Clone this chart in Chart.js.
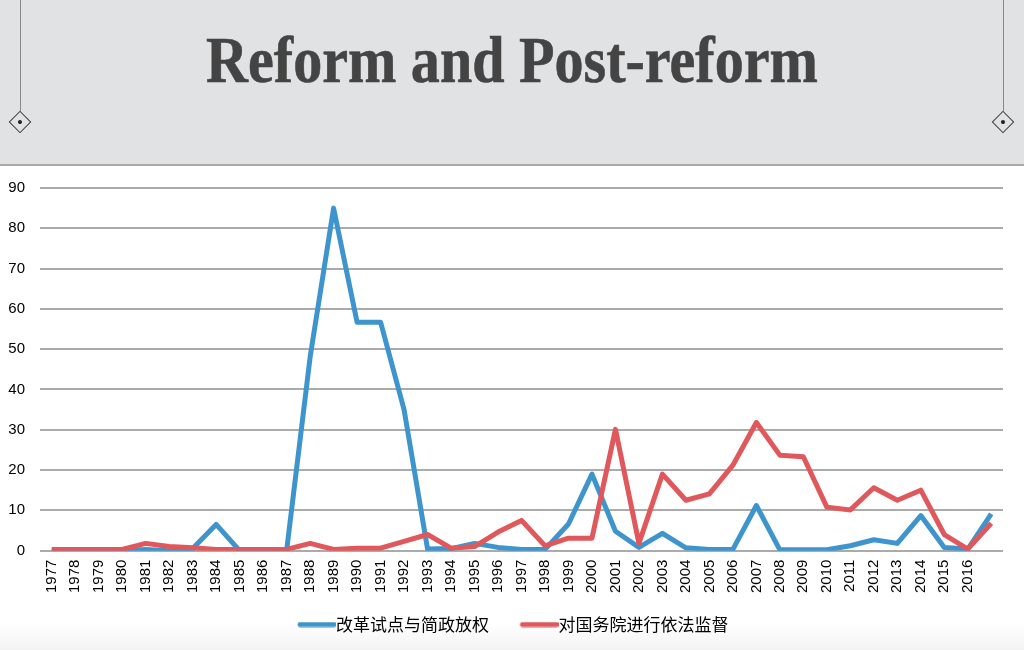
<!DOCTYPE html>
<html lang="zh">
<head>
  <meta charset="UTF-8" />
  <title>Reform and Post-reform</title>
  <script src="https://cdn.jsdelivr.net/npm/chart.js"></script>
  <style>
    html, body {
      margin: 0;
      padding: 0;
      width: 1024px;
      height: 650px;
      overflow: hidden;
      background: #fff;
    }

    #header {
      position: absolute;
      left: 0;
      top: 0;
      width: 1024px;
      height: 164px;
      background-color: #e1e2e4;
      border-bottom: 2px solid #a8a8a8;
    }

    #title {
      position: absolute;
      left: 0;
      top: 27px;
      width: 1024px;
      text-align: center;
      font-family: 'Liberation Serif', serif;
      font-weight: 700;
      font-size: 66px;
      line-height: 66px;
      color: #444;
      -webkit-text-stroke: 0.6px #444;
      transform: scaleX(0.88);
      white-space: nowrap;
    }

    .drop {
      position: absolute;
      top: 0;
      width: 1px;
      height: 111px;
      background: #8a8a8a;
    }

    .diamond {
      position: absolute;
      top: 114px;
      width: 14px;
      height: 14px;
      border: 1.5px solid #3c3c3c;
      transform: rotate(45deg);
    }

    .diamond::after {
      content: '';
      position: absolute;
      left: 5px;
      top: 5px;
      width: 4px;
      height: 4px;
      border-radius: 50%;
      background: #222;
    }

    #chartBox {
      position: absolute;
      left: 0;
      top: 168px;
      width: 1024px;
      height: 482px;
      background: linear-gradient(to bottom, #fff 0, #fff 455px, #f3f3f3 482px);
    }
  </style>
</head>
<body>

  <div id="header">
    <div class="drop" style="left: 20px;"></div>
    <div class="drop" style="left: 1003px;"></div>
    <div class="diamond" style="left: 12px;"></div>
    <div class="diamond" style="left: 995px;"></div>
    <div id="title">Reform and Post-reform</div>
  </div>

  <div id="chartBox">
    <canvas id="reformChart"></canvas>
  </div>

  <script>
    // year labels on the x axis (the last point carries no label)
    const years = [
      '1977', '1978', '1979', '1980', '1981', '1982', '1983', '1984', '1985', '1986',
      '1987', '1988', '1989', '1990', '1991', '1992', '1993', '1994', '1995', '1996',
      '1997', '1998', '1999', '2000', '2001', '2002', '2003', '2004', '2005', '2006',
      '2007', '2008', '2009', '2010', '2011', '2012', '2013', '2014', '2015', '2016',
      ''
    ];

    const reformLabel = '改革试点与简政放权';
    const reformValues = [
      0, 0, 0, 0, 0.3, 0, 0.5, 6.5, 0, 0,
      0, 48, 85, 56.7, 56.7, 35, 0.4, 0.5, 1.8, 0.8,
      0.3, 0.3, 6.6, 19, 4.8, 0.8, 4.3, 0.7, 0.3, 0.3,
      11.2, 0.2, 0.2, 0.2, 1.2, 2.7, 1.8, 8.7, 0.8, 0.4,
      9.1
    ];

    const supervisionLabel = '对国务院进行依法监督';
    const supervisionValues = [
      0.3, 0.3, 0.3, 0.3, 1.8, 1.0, 0.7, 0.3, 0.3, 0.3,
      0.3, 1.8, 0.3, 0.6, 0.6, 2.3, 4, 0.6, 1.0, 4.6,
      7.5, 1.2, 3.1, 3.1, 30.1, 1.8, 19, 12.5, 14.1, 21.2,
      31.8, 23.7, 23.3, 10.8, 10.1, 15.6, 12.5, 15, 4, 0.4,
      6.8
    ];

    const yTicks = { min: 0, max: 90, step: 10 };

    const blue = '#3e95cd';
    const red = '#e0585b';

    // legend swatch: a short thick line that runs right up to the label text
    function legendSwatch(color) {
      const c = document.createElement('canvas');
      c.width = 64;
      c.height = 6;
      const ctx = c.getContext('2d');
      ctx.strokeStyle = color;
      ctx.lineWidth = 5;
      ctx.lineCap = 'round';
      ctx.beginPath();
      ctx.moveTo(28, 3);
      ctx.lineTo(62, 3);
      ctx.stroke();
      return c;
    }

    new Chart(document.getElementById('reformChart'), {
      type: 'line',
      data: {
        labels: years,
        datasets: [
          {
            label: reformLabel,
            data: reformValues,
            borderColor: blue,
            backgroundColor: blue,
            borderWidth: 5,
            pointRadius: 0,
            pointStyle: legendSwatch(blue),
            borderJoinStyle: 'round',
            tension: 0,
            order: 1
          },
          {
            label: supervisionLabel,
            data: supervisionValues,
            borderColor: red,
            backgroundColor: red,
            borderWidth: 5,
            pointRadius: 0,
            pointStyle: legendSwatch(red),
            borderJoinStyle: 'round',
            tension: 0,
            order: 0
          }
        ]
      },
      options: {
        responsive: true,
        maintainAspectRatio: false,
        animation: false,
        layout: {
          padding: { top: 20, right: 21, left: 6, bottom: 7 }
        },
        scales: {
          x: {
            offset: true,
            grid: { display: false, drawTicks: false },
            border: { display: false },
            ticks: {
              autoSkip: false,
              maxRotation: 90,
              minRotation: 90,
              padding: 9,
              color: '#000',
              font: { family: 'Liberation Sans', size: 15 }
            }
          },
          y: {
            min: yTicks.min,
            max: yTicks.max,
            afterFit: (scale) => { scale.width = 34; },
            grid: {
              color: '#ababab',
              lineWidth: 2,
              drawTicks: true,
              tickLength: 15,
              tickColor: 'rgba(0,0,0,0)'
            },
            border: { display: false },
            ticks: {
              stepSize: yTicks.step,
              padding: 0,
              color: '#000',
              font: { family: 'Liberation Sans', size: 15 }
            }
          }
        },
        plugins: {
          legend: {
            position: 'bottom',
            labels: {
              usePointStyle: true,
              pointStyleWidth: 47,
              padding: 14,
              color: '#000',
              font: { family: 'Noto Sans CJK SC', size: 17 },
              sort: (a, b) => a.datasetIndex - b.datasetIndex
            }
          },
          tooltip: { enabled: false }
        }
      }
    });
  </script>

</body>
</html>
